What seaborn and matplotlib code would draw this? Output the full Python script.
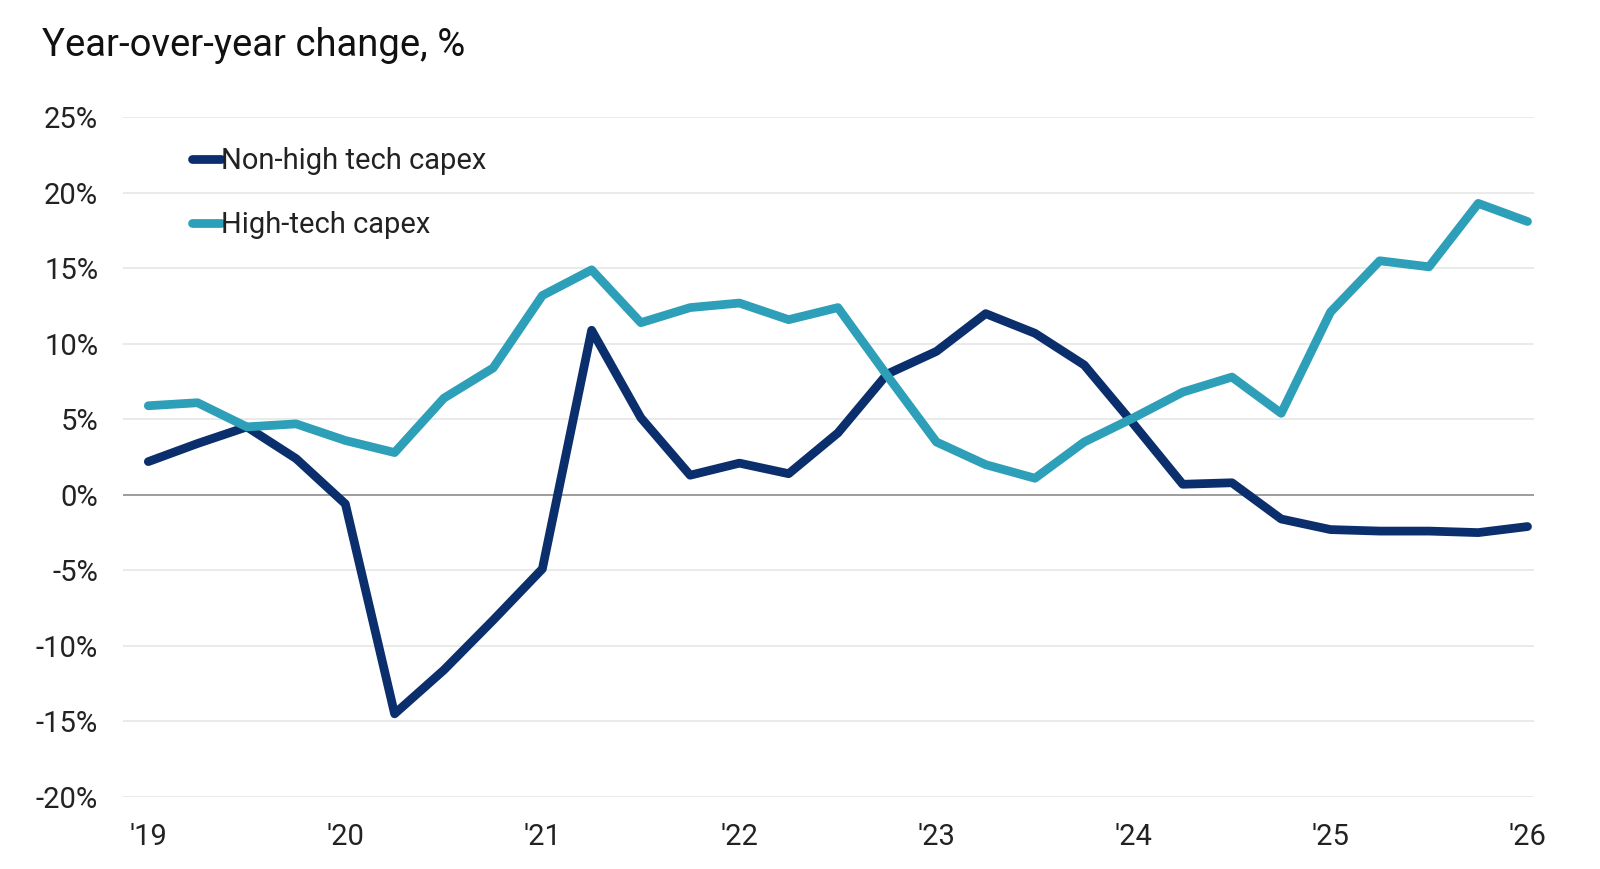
import numpy as np
import pandas as pd
import seaborn as sns
import matplotlib.pyplot as plt

# quarterly, 2019Q1 .. 2026Q1
quarter = list(range(29))
non_high_tech = [2.2, 3.4, 4.5, 2.4, -0.6, -14.5, -11.6, -8.3, -4.9, 10.9,
                 5.1, 1.3, 2.1, 1.4, 4.1, 8.0, 9.5, 12.0, 10.7, 8.6,
                 4.7, 0.7, 0.8, -1.6, -2.3, -2.4, -2.4, -2.5, -2.1]
high_tech = [5.9, 6.1, 4.5, 4.7, 3.6, 2.8, 6.4, 8.4, 13.2, 14.9,
             11.4, 12.4, 12.7, 11.6, 12.4, 7.9, 3.5, 2.0, 1.1, 3.5,
             5.1, 6.8, 7.8, 5.4, 12.1, 15.5, 15.1, 19.3, 18.1]
year_labels = ["'19", "'20", "'21", "'22", "'23", "'24", "'25", "'26"]
y_ticks = [25, 20, 15, 10, 5, 0, -5, -10, -15, -20]

df = pd.DataFrame({
    'quarter': quarter * 2,
    'value': non_high_tech + high_tech,
    'series': ['Non-high tech capex'] * 29 + ['High-tech capex'] * 29,
})

sns.set_style("white")
plt.rcParams['font.family'] = ['Roboto', 'DejaVu Sans']

fig = plt.figure(figsize=(16, 8.69), dpi=100)
ax = fig.add_axes([0.077, 0.083, 0.882, 0.782])

for y in y_ticks:
    if y != 0:
        ax.axhline(y, color='#e6e6e6', lw=1.2, zorder=0)
ax.axhline(0, color='#8c8c8c', lw=1.2, zorder=1)

sns.lineplot(data=df, x='quarter', y='value', hue='series',
             palette={'Non-high tech capex': '#0b2f6d', 'High-tech capex': '#2e9fb8'},
             linewidth=6.3, ax=ax, zorder=3)
for line in ax.get_lines():
    line.set_solid_capstyle('round')
    line.set_solid_joinstyle('round')

ax.set_xlim(-0.51, 28.14)
ax.set_ylim(-20, 25)
ax.set_xticks(range(0, 29, 4))
ax.set_xticklabels(year_labels)
ax.set_yticks(y_ticks)
ax.set_yticklabels([f'{v}%' for v in y_ticks])
ax.tick_params(axis='both', labelsize=21, colors='#222222', length=0)
ax.tick_params(axis='y', pad=18)
ax.tick_params(axis='x', pad=19)
ax.set_xlabel('')
ax.set_ylabel('')
for s in ax.spines.values():
    s.set_visible(False)

leg = ax.legend(loc='upper left', bbox_to_anchor=(0.03, 0.995), frameon=False,
                fontsize=21, handlelength=1.0, handletextpad=0.0,
                labelspacing=1.25, labelcolor='#222222')
for h in leg.get_lines():
    h.set_linewidth(6.3)
    h.set_solid_capstyle('round')

fig.text(0.026, 0.948, 'Year-over-year change, %', fontsize=27.5, color='#111111',
         va='center', ha='left')

plt.savefig('out.png', dpi=100)
